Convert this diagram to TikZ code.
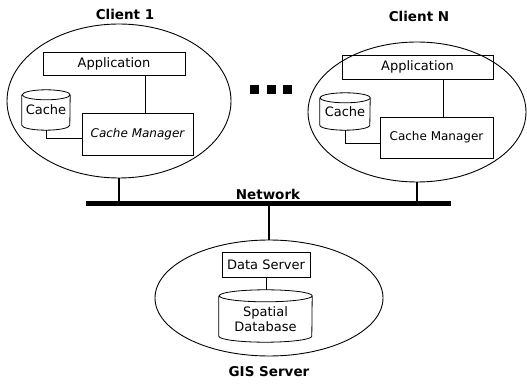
\documentclass[tikz,border=0pt]{standalone}
\usepackage{fontspec}
\setmainfont{DejaVu Sans}
\usetikzlibrary{shapes.geometric,calc}

% cylinder outline drawn round a node: node name, half width, cap half-height
\newcommand\drum[3]{%
  \draw[boxline] ([yshift=-#3pt]#1.north west) -- ([yshift=#3pt]#1.south west)
    arc[start angle=180,end angle=360,x radius=#2pt,y radius=#3pt]
    -- ([yshift=-#3pt]#1.north east)
    arc[start angle=0,end angle=360,x radius=#2pt,y radius=#3pt];}

\begin{document}
\begin{tikzpicture}[x=1pt,y=1pt,
  boxline/.style={line width=0.8pt},
  box/.style={draw,boxline,rectangle,inner sep=0pt,font=\fontsize{13}{15}\selectfont},
  drumtext/.style={inner sep=0pt,font=\fontsize{13}{15}\selectfont,align=center},
  host/.style={draw,ellipse,line width=0.9pt,inner sep=0pt},
  title/.style={font=\bfseries\fontsize{13.5}{15}\selectfont},
  tap/.style={line width=2.2pt},
  bus/.style={line width=5pt},
  dot/.style={fill,rectangle,minimum size=9pt,inner sep=0pt}]
\useasboundingbox (0,0) rectangle (527,-387);

% client 1
\node[host,minimum width=224pt,minimum height=154pt] (c1) at (119,-101) {};
\node[title] (t1) at (125,-14) {Client 1};
\node[box,minimum width=142pt,minimum height=23pt] (app1) at (114,-63.5) {Application};
\node[box,minimum width=111pt,minimum height=42pt,font=\itshape\fontsize{12}{14}\selectfont] (mgr1) at (137.5,-134) {Cache Manager};
\node[drumtext,minimum width=48pt,minimum height=40pt] (cache1) at (46,-110) {Cache};
\drum{cache1}{24}{5}
\draw[boxline] ([xshift=31pt]app1.south) -- ([xshift=31pt]app1.south |- mgr1.north);
\draw[boxline] (cache1.south) |- ([yshift=-4pt]mgr1.west);

% client N
\node[host,minimum width=218pt,minimum height=140pt] (cN) at (417,-112) {};
\node[title] (tN) at (419,-16) {Client N};
\node[box,minimum width=151pt,minimum height=24pt] (appN) at (417.5,-67) {Application};
\node[box,minimum width=113pt,minimum height=41pt,font=\fontsize{12}{14}\selectfont] (mgrN) at (436.5,-137.5) {Cache Manager};
\node[drumtext,minimum width=50pt,minimum height=37pt] (cacheN) at (345,-111.5) {Cache};
\drum{cacheN}{25}{5}
\draw[boxline] ([xshift=25.5pt]appN.south) -- ([xshift=25.5pt]appN.south |- mgrN.north);
\draw[boxline] (cacheN.south) |- ([yshift=-5.5pt]mgrN.west);

% dots between the clients
\node[dot] (d1) at (254.5,-89.5) {};
\node[dot] (d2) at (271,-89.5) {};
\node[dot] (d3) at (287.5,-89.5) {};

% GIS server
\node[host,minimum width=228pt,minimum height=116pt] (gis) at (269,-298) {};
\node[title] (tg) at (269,-372) {GIS Server};
\node[box,minimum width=88pt,minimum height=25pt] (ds) at (266,-264.5) {Data Server};
\node[minimum width=93pt,minimum height=52pt,inner sep=0pt] (db) at (265.5,-316) {};
\drum{db}{46.5}{6}
\node[drumtext] (dbtxt) at ([yshift=-3pt]db.center) {Spatial\\Database};
\draw[boxline] (ds.south) -- (ds.south |- db.north);

% network bus
\coordinate (nL) at (86,-204);
\coordinate (nR) at (451,-204);
\draw[bus] (nL) -- (nR);
\node[title] (net) at (268,-194) {Network};
\draw[tap] (c1.south) -- (c1.south |- nL);
\draw[tap] (cN.south) -- (cN.south |- nL);
\draw[tap] (gis.north) -- (gis.north |- nL);
\end{tikzpicture}
\end{document}
